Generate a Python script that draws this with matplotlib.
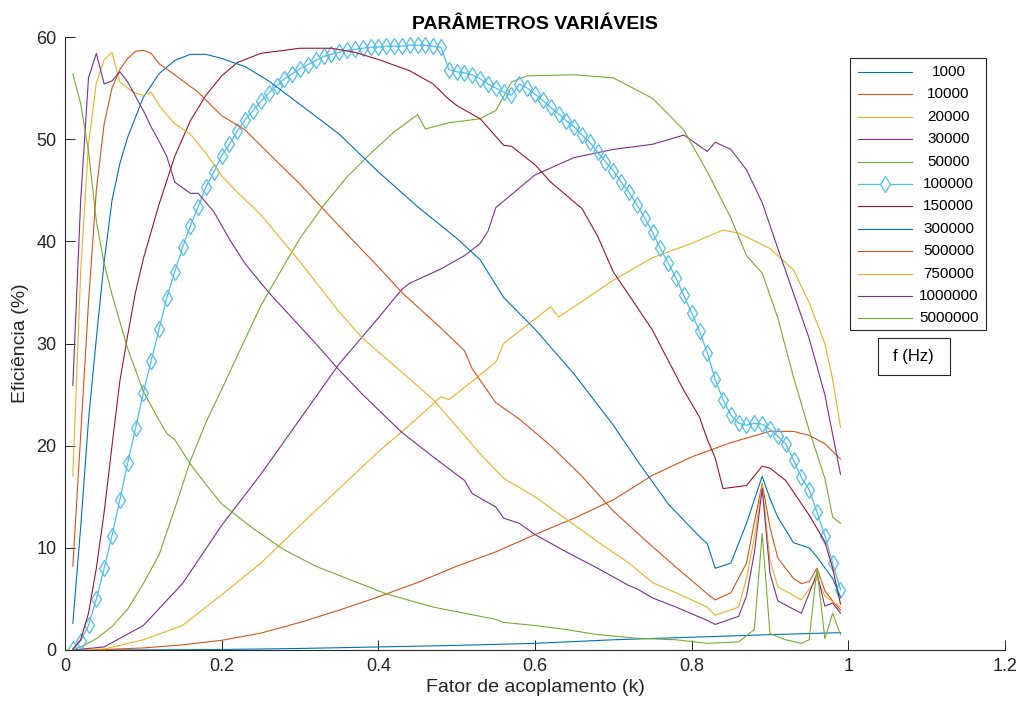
import matplotlib
matplotlib.use('Agg')
import matplotlib.pyplot as plt
import numpy as np
from matplotlib.lines import Line2D
from matplotlib.patches import Rectangle

plt.rcParams['font.family'] = ['Liberation Sans', 'DejaVu Sans']
plt.rcParams['axes.linewidth'] = 0.8

# ----------------------------------------------- #
# ---- efficiency (%) vs coupling factor k ------ #
# ----------------------------------------------- #
freq_labels = ['1000', '10000', '20000', '30000', '50000', '100000',
               '150000', '300000', '500000', '750000', '1000000', '5000000']

k_1000 = [0.01, 0.1, 0.2, 0.3, 0.4, 0.5, 0.6, 0.7, 0.8, 0.9, 0.99]
ef_1000 = [0.0, 0.01, 0.05, 0.15, 0.3, 0.45, 0.65, 1.0, 1.25, 1.5, 1.7]

k_10000 = [0.01, 0.05, 0.1, 0.15, 0.2, 0.25, 0.3, 0.35, 0.4, 0.45, 0.5, 0.55,
           0.6, 0.65, 0.7, 0.75, 0.8, 0.85, 0.9, 0.93, 0.95, 0.97, 0.99]
ef_10000 = [0.0, 0.05, 0.2, 0.5, 0.95, 1.65, 2.7, 3.9, 5.2, 6.6, 8.2, 9.6,
            11.3, 12.9, 14.7, 17.1, 18.9, 20.3, 21.4, 21.4, 21.0, 20.2, 18.7]

k_20000 = [0.01, 0.05, 0.1, 0.15, 0.2, 0.25, 0.3, 0.35, 0.4, 0.45, 0.47, 0.48,
           0.49, 0.52, 0.55, 0.56, 0.6, 0.62, 0.63, 0.65, 0.7, 0.75, 0.8, 0.84,
           0.86, 0.9, 0.93, 0.95, 0.97, 0.98, 0.99]
ef_20000 = [0.0, 0.1, 1.0, 2.4, 5.4, 8.5, 12.2, 15.8, 19.4, 22.7, 24.1, 24.8,
            24.5, 26.3, 28.2, 30.0, 32.4, 33.6, 32.6, 33.6, 36.2, 38.4, 39.8, 41.1,
            40.8, 39.3, 37.2, 34.0, 30.0, 26.5, 21.8]

k_30000 = [0.01, 0.05, 0.1, 0.15, 0.2, 0.25, 0.3, 0.35, 0.4, 0.43, 0.44, 0.48,
           0.51, 0.53, 0.54, 0.55, 0.6, 0.65, 0.7, 0.75, 0.79, 0.82, 0.83, 0.85,
           0.87, 0.89, 0.91, 0.93, 0.95, 0.97, 0.99]
ef_30000 = [0.0, 0.3, 2.4, 6.5, 12.2, 17.2, 22.6, 28.0, 32.5, 35.3, 35.9, 37.3,
            38.6, 39.8, 41.0, 43.3, 46.5, 48.2, 49.0, 49.5, 50.4, 48.8, 49.7, 49.0,
            47.0, 43.8, 39.3, 34.9, 30.5, 25.0, 17.2]

k_50000 = [0.01, 0.02, 0.04, 0.06, 0.08, 0.1, 0.12, 0.14, 0.16, 0.18, 0.2, 0.22,
           0.25, 0.28, 0.3, 0.33, 0.36, 0.39, 0.42, 0.45, 0.46, 0.49, 0.53, 0.55,
           0.57, 0.59, 0.65, 0.7, 0.75, 0.79, 0.82, 0.85, 0.87, 0.89, 0.91, 0.93,
           0.95, 0.97, 0.98, 0.99]
ef_50000 = [0.0, 0.3, 1.1, 2.3, 4.0, 6.5, 9.3, 13.8, 18.5, 22.3, 25.5, 28.8,
            33.7, 37.7, 40.3, 43.5, 46.3, 48.6, 50.7, 52.4, 51.0, 51.6, 52.0, 52.8,
            55.6, 56.2, 56.3, 56.0, 54.0, 50.9, 46.8, 42.3, 38.6, 36.9, 32.5, 26.7,
            21.5, 16.8, 13.0, 12.4]

# 100000 Hz was sampled at every 0.01
k_100000 = np.round(np.arange(1, 100) / 100, 2)
ef_100000 = [0.05, 0.9, 2.4, 5.0, 8.0, 11.2, 14.7, 18.3, 21.7, 25.2,
             28.3, 31.4, 34.5, 37.0, 39.4, 41.5, 43.4, 45.3, 46.8, 48.4,
             49.5, 50.8, 51.9, 52.8, 53.7, 54.5, 55.2, 55.9, 56.4, 56.9,
             57.3, 57.7, 58.1, 58.3, 58.5, 58.7, 58.8, 58.9, 59.0, 59.0,
             59.1, 59.1, 59.1, 59.2, 59.2, 59.2, 59.1, 59.0, 56.8, 56.6,
             56.5, 56.3, 55.9, 55.4, 55.0, 54.6, 54.3, 55.4, 55.0, 54.4,
             53.8, 53.1, 52.5, 51.8, 51.2, 50.4, 49.7, 48.7, 47.8, 46.9,
             45.8, 44.8, 43.6, 42.3, 40.9, 39.3, 37.9, 36.4, 34.7, 33.0,
             31.2, 29.1, 26.5, 24.5, 23.0, 22.2, 22.0, 22.2, 22.1, 21.6,
             20.9, 20.2, 18.6, 16.9, 15.7, 13.5, 11.2, 8.5, 5.9]

k_150000 = [0.01, 0.02, 0.03, 0.04, 0.05, 0.06, 0.07, 0.08, 0.09, 0.1, 0.12, 0.14,
            0.16, 0.18, 0.2, 0.22, 0.25, 0.3, 0.34, 0.37, 0.4, 0.44, 0.47, 0.49,
            0.5, 0.53, 0.56, 0.57, 0.6, 0.62, 0.66, 0.68, 0.7, 0.73, 0.75, 0.79,
            0.81, 0.82, 0.83, 0.84, 0.87, 0.89, 0.9, 0.92, 0.95, 0.97, 0.98, 0.99]
ef_150000 = [0.1, 1.0, 3.6, 8.0, 13.5, 20.0, 26.3, 30.8, 35.0, 38.3, 43.6, 48.3,
             51.8, 54.3, 56.2, 57.5, 58.4, 58.9, 58.9, 58.5, 57.8, 56.7, 55.4, 53.9,
             53.3, 52.0, 49.4, 49.3, 47.5, 45.8, 43.2, 40.5, 37.0, 33.6, 31.3, 25.4,
             22.8, 20.6, 18.8, 15.8, 16.1, 18.0, 17.8, 16.6, 13.2, 10.6, 8.0, 4.5]

k_300000 = [0.01, 0.02, 0.03, 0.04, 0.05, 0.06, 0.07, 0.08, 0.1, 0.12, 0.14, 0.16,
            0.18, 0.2, 0.23, 0.26, 0.3, 0.35, 0.4, 0.45, 0.5, 0.53, 0.56, 0.6,
            0.65, 0.7, 0.73, 0.77, 0.81, 0.82, 0.83, 0.85, 0.87, 0.89, 0.9, 0.91,
            0.93, 0.95, 0.96, 0.98, 0.99]
ef_300000 = [2.6, 12.0, 22.5, 30.5, 38.0, 44.0, 47.6, 50.2, 54.1, 56.4, 57.7, 58.3,
             58.3, 57.9, 57.1, 55.7, 53.4, 50.5, 46.8, 43.4, 40.3, 38.2, 34.5, 31.4,
             27.0, 22.0, 18.6, 14.3, 11.1, 10.4, 8.0, 8.5, 12.4, 17.0, 14.8, 13.0,
             10.5, 10.0, 9.1, 7.0, 5.2]

k_500000 = [0.01, 0.02, 0.03, 0.04, 0.05, 0.06, 0.07, 0.08, 0.09, 0.1, 0.11, 0.12,
            0.14, 0.17, 0.2, 0.23, 0.26, 0.3, 0.35, 0.4, 0.43, 0.48, 0.51, 0.52,
            0.55, 0.58, 0.62, 0.66, 0.7, 0.74, 0.78, 0.82, 0.83, 0.85, 0.87, 0.88,
            0.89, 0.9, 0.91, 0.93, 0.94, 0.95, 0.96, 0.97, 0.98, 0.99]
ef_500000 = [8.2, 21.0, 34.0, 45.0, 51.5, 55.0, 56.8, 57.9, 58.6, 58.7, 58.4, 57.4,
             56.3, 54.6, 52.3, 50.9, 48.6, 45.6, 41.5, 37.5, 35.0, 31.5, 29.3, 27.5,
             24.2, 22.6, 20.0, 17.0, 13.6, 10.8, 8.1, 5.5, 4.9, 5.6, 8.5, 12.5,
             16.3, 12.0, 9.0, 7.0, 6.5, 6.7, 8.0, 5.8, 4.8, 3.9]

k_750000 = [0.01, 0.02, 0.03, 0.04, 0.05, 0.06, 0.07, 0.08, 0.09, 0.1, 0.11, 0.12,
            0.14, 0.16, 0.18, 0.2, 0.22, 0.25, 0.3, 0.35, 0.38, 0.43, 0.47, 0.51,
            0.53, 0.56, 0.6, 0.64, 0.68, 0.72, 0.75, 0.78, 0.82, 0.83, 0.86, 0.87,
            0.88, 0.89, 0.9, 0.91, 0.94, 0.96, 0.97, 0.99]
ef_750000 = [17.0, 37.0, 49.5, 55.5, 57.8, 58.5, 55.6, 55.0, 54.5, 54.3, 54.6, 53.3,
             51.5, 50.5, 48.6, 46.4, 44.8, 42.6, 38.0, 33.1, 30.5, 27.2, 24.5, 21.0,
             19.2, 16.8, 15.0, 12.8, 10.6, 8.5, 6.6, 5.6, 4.2, 3.4, 4.2, 7.0,
             11.0, 16.2, 8.8, 6.2, 4.9, 7.0, 5.3, 4.2]

k_1000000 = [0.01, 0.02, 0.03, 0.04, 0.05, 0.06, 0.07, 0.08, 0.09, 0.1, 0.11, 0.12,
             0.13, 0.14, 0.16, 0.17, 0.19, 0.21, 0.23, 0.26, 0.29, 0.32, 0.35, 0.38,
             0.43, 0.47, 0.51, 0.52, 0.55, 0.56, 0.58, 0.6, 0.64, 0.68, 0.72, 0.73,
             0.75, 0.78, 0.82, 0.83, 0.86, 0.87, 0.88, 0.89, 0.9, 0.91, 0.94, 0.96,
             0.97, 0.98, 0.99]
ef_1000000 = [25.9, 44.0, 56.0, 58.4, 55.4, 55.7, 56.6, 55.6, 54.2, 52.8, 51.2, 49.8,
              48.3, 45.8, 44.7, 44.7, 42.9, 40.2, 37.8, 35.0, 32.5, 30.0, 27.4, 25.0,
              21.3, 18.9, 16.6, 15.3, 14.0, 12.9, 12.4, 11.3, 9.6, 8.0, 6.3, 6.0,
              5.1, 4.2, 2.9, 2.5, 3.3, 5.3, 9.5, 15.8, 7.5, 4.8, 3.6, 7.5,
              4.3, 4.6, 3.6]

k_5000000 = [0.01, 0.02, 0.03, 0.04, 0.05, 0.06, 0.08, 0.1, 0.12, 0.13, 0.14, 0.16,
             0.18, 0.2, 0.24, 0.28, 0.32, 0.36, 0.41, 0.47, 0.53, 0.55, 0.56, 0.6,
             0.64, 0.68, 0.73, 0.78, 0.82, 0.86, 0.88, 0.89, 0.9, 0.92, 0.94, 0.95,
             0.96, 0.97, 0.98, 0.99]
ef_5000000 = [56.4, 53.5, 48.8, 42.0, 37.8, 34.8, 29.5, 25.3, 22.5, 21.2, 20.6, 18.2,
              16.2, 14.3, 11.9, 9.8, 8.2, 7.0, 5.5, 4.2, 3.3, 3.0, 2.7, 2.4,
              2.0, 1.5, 1.15, 1.0, 0.65, 0.8, 2.0, 11.4, 1.6, 1.0, 0.65, 1.0,
              8.0, 1.1, 3.6, 1.5]

series = [(k_1000, ef_1000), (k_10000, ef_10000), (k_20000, ef_20000),
          (k_30000, ef_30000), (k_50000, ef_50000), (k_100000, ef_100000),
          (k_150000, ef_150000), (k_300000, ef_300000), (k_500000, ef_500000),
          (k_750000, ef_750000), (k_1000000, ef_1000000), (k_5000000, ef_5000000)]

# default line colour order, cycled
color_order = ['#0072BD', '#D95319', '#EDB120', '#7E2F8E',
               '#77AC30', '#4DBEEE', '#A2142F']
axis_color = '#262626'

# ----------------------------------------------- #
# -------------- FIGURE PLOT -------------------- #
# ----------------------------------------------- #
fig = plt.figure(figsize=(10.19, 7.09), dpi=100)
ax = fig.add_axes([65 / 1019, 59 / 709, 940 / 1019, 613 / 709])

styles = []
for i, (k, ef) in enumerate(series):
    c = color_order[i % len(color_order)]
    if freq_labels[i] == '100000':
        st = dict(color=c, lw=0.9, marker='d', ms=8.5, mfc='none', mec=c, mew=0.9)
    else:
        st = dict(color=c, lw=0.8)
    styles.append(st)
    ax.plot(k, ef, **st)

ax.set_xlim(0, 1.2)
ax.set_ylim(0, 60)
ax.set_xticks(np.arange(0, 1.21, 0.2))
ax.set_xticklabels(['0', '0.2', '0.4', '0.6', '0.8', '1', '1.2'])
ax.set_yticks(np.arange(0, 61, 10))

for side in ['top', 'right']:
    ax.spines[side].set_visible(False)
for side in ['left', 'bottom']:
    ax.spines[side].set_color(axis_color)

ax.tick_params(direction='in', length=7, width=0.7, colors=axis_color,
               labelsize=13, pad=6)

ax.set_title('PARÂMETROS VARIÁVEIS', fontsize=14, fontweight='bold',
             color='black', pad=6)
ax.set_xlabel('Fator de acoplamento (k)', fontsize=14, color=axis_color, labelpad=3)
ax.set_ylabel('Eficiência (%)', fontsize=14, color=axis_color, labelpad=5)

# --- legend drawn in axes fraction
tr = ax.transAxes
ax.add_patch(Rectangle((0.835, 0.522), 0.145, 0.444, transform=tr,
                       fc='white', ec=axis_color, lw=0.8, clip_on=False, zorder=5))
row0 = 0.9429
row_step = 0.03654
for i, lab in enumerate(freq_labels):
    y = row0 - i * row_step
    st = dict(styles[i])
    mk = st.pop('marker', None)
    ax.add_line(Line2D([0.8436, 0.901], [y, y], transform=tr, clip_on=False,
                       zorder=6, color=st['color'], lw=st['lw']))
    if mk is not None:
        ax.add_line(Line2D([0.8723], [y], transform=tr, clip_on=False, zorder=7,
                           marker=mk, ms=st['ms'], mfc='white', mec=st['mec'],
                           mew=st['mew'], lw=0))
    ax.text(0.940, y, lab, transform=tr, ha='center', va='center',
            fontsize=11, color='black', zorder=7)

# --- legend title box
ax.add_patch(Rectangle((0.903 - 0.0383, 0.479 - 0.0302), 0.0766, 0.0604,
                       transform=tr, fc='white', ec=axis_color, lw=0.8,
                       clip_on=False, zorder=5))
ax.text(0.903, 0.479, 'f (Hz)', transform=tr, ha='center', va='center',
        fontsize=12, color='black', zorder=6)

fig.savefig('out.png', dpi=100)
